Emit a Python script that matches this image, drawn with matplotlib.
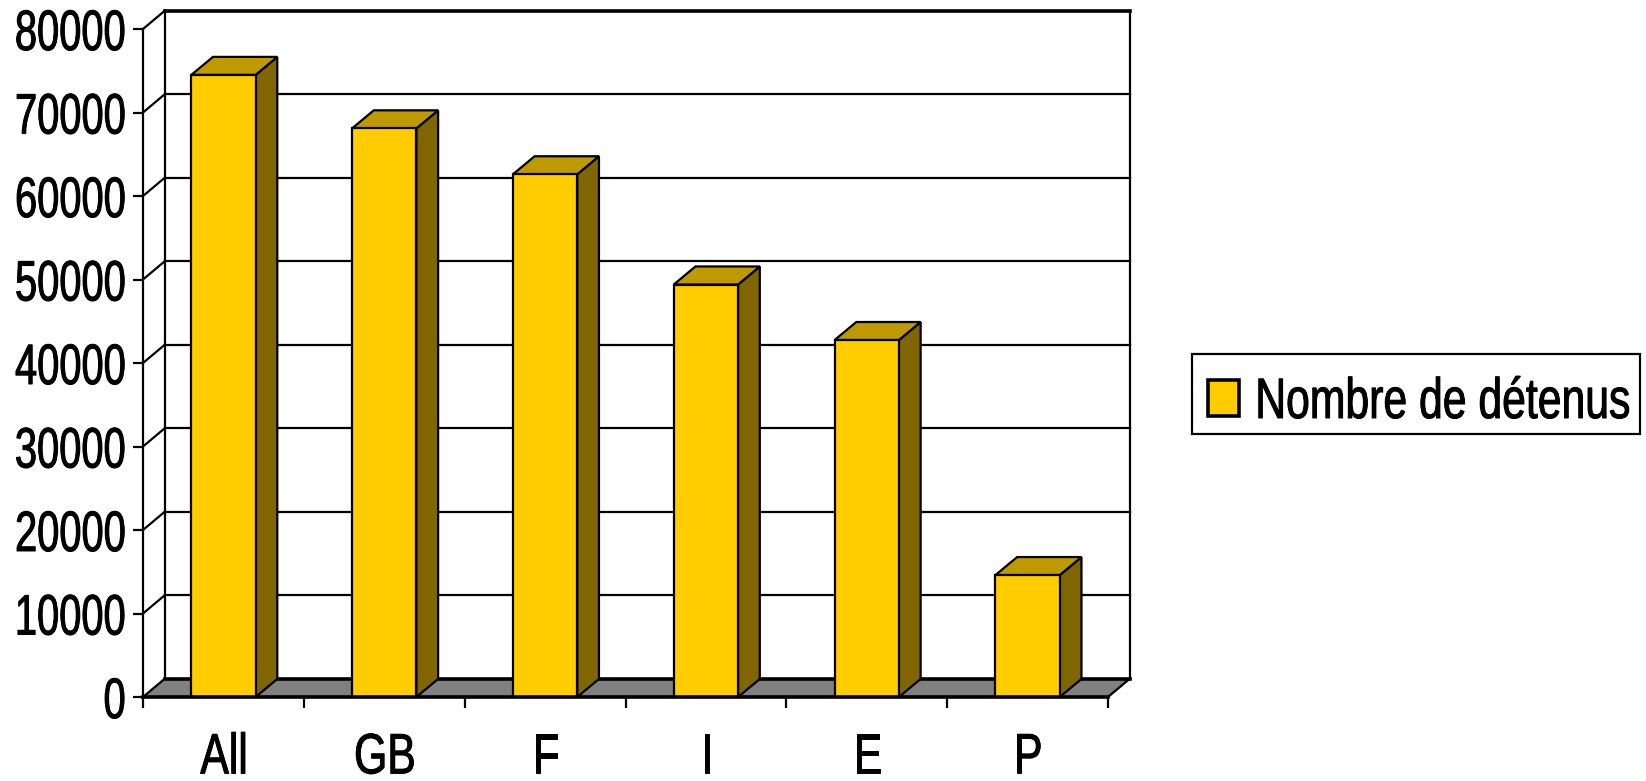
import matplotlib
matplotlib.use("Agg")
import matplotlib.pyplot as plt
import matplotlib.patheffects as pe
from matplotlib import font_manager
from matplotlib.patches import Patch, Polygon, Rectangle
from fontTools.ttLib import TTFont

# ----------------------------------
# Narrow font, squeezed from Liberation Sans
# ----------------------------------

squeeze = 0.75
digit_squeeze = 0.70
digit_names = ["zero", "one", "two", "three", "four", "five", "six", "seven", "eight", "nine"]

font = TTFont(font_manager.findfont("Liberation Sans"))
glyf = font["glyf"]
hmtx = font["hmtx"]

for name in glyf.keys():
    g = glyf[name]
    k = digit_squeeze if name in digit_names else squeeze
    if g.isComposite():
        for c in g.components:
            c.x = round(c.x * k)
    elif g.numberOfContours > 0:
        g.coordinates.scale((k, 1))
        g.coordinates.toInt()
        g.removeHinting()
    adv, lsb = hmtx.metrics[name]
    hmtx.metrics[name] = (round(adv * k), round(lsb * k))

for name in glyf.keys():
    glyf[name].recalcBounds(glyf)

for table in ["kern", "GPOS", "GSUB", "fpgm", "prep", "cvt "]:
    if table in font:
        del font[table]

for rec in font["name"].names:
    if rec.nameID in (1, 4, 16):
        rec.string = "Squeezed Sans"
    elif rec.nameID == 6:
        rec.string = "SqueezedSans-Regular"

font.save("squeezed.ttf")
font_manager.fontManager.addfont("squeezed.ttf")
plt.rcParams["font.family"] = ["Squeezed Sans", "Liberation Sans", "DejaVu Sans"]

# ----------------------------------
# Data
# ----------------------------------

countries = ["All", "GB", "F", "I", "E", "P"]
detenus = [74500, 68100, 62600, 49400, 42750, 14600]
y_ticks = [0, 10000, 20000, 30000, 40000, 50000, 60000, 70000, 80000]
series_name = "Nombre de détenus"

# ----------------------------------
# Styles
# ----------------------------------

front_color = "#FFCC00"
top_color = "#BF9900"
side_color = "#806600"
floor_color = "#808080"

bar_width = 0.4
wall_dx = 0.137
wall_dy = 2215
bar_dx = 0.135
bar_dy = 2160
label_size = 41
thin = 1.6
thick = 2.6
heavier = [pe.withStroke(linewidth=0.7, foreground="black")]

# ----------------------------------
# Axes
# ----------------------------------

fig = plt.figure(figsize=(16.46, 7.81), dpi=100, facecolor="white")
ax = fig.add_axes([143 / 1646, 84 / 781, 965 / 1646, 668 / 781])

ax.set_xlim(0, len(countries))
ax.set_ylim(0, y_ticks[-1])

for side in ["top", "right", "bottom"]:
    ax.spines[side].set_visible(False)
ax.spines["left"].set_linewidth(thin)

ax.set_yticks(y_ticks)
ax.set_yticklabels([str(v) for v in y_ticks], fontsize=label_size, path_effects=heavier)
ax.tick_params(axis="y", length=7.5, width=thin, pad=5)

ax.set_xticks(range(len(countries) + 1))
ax.set_xticklabels([""] * (len(countries) + 1))
ax.tick_params(axis="x", length=8, width=thin)

# category names sit between the tick marks
for i, name in enumerate(countries):
    ax.annotate(name, (i + 0.5, 0), xytext=(0.5, -55), textcoords="offset points",
                ha="center", va="baseline", fontsize=label_size, path_effects=heavier)

# ----------------------------------
# Floor and walls
# ----------------------------------

n = len(countries)
ymax = y_ticks[-1]

ax.add_patch(Polygon([(0, 0), (n, 0), (n + wall_dx, wall_dy), (wall_dx, wall_dy)],
                     closed=True, facecolor=floor_color, edgecolor="none",
                     clip_on=False, zorder=1))
ax.plot([n, n + wall_dx], [0, wall_dy], color="black", lw=thin, clip_on=False, zorder=2)
ax.plot([wall_dx, n + wall_dx], [wall_dy, wall_dy], color="black", lw=thick, clip_on=False, zorder=2)

# back wall outline
ax.plot([wall_dx, wall_dx], [wall_dy, ymax + wall_dy], color="black", lw=thin, clip_on=False, zorder=2)
ax.plot([n + wall_dx, n + wall_dx], [wall_dy, ymax + wall_dy], color="black", lw=thin, clip_on=False, zorder=2)
ax.plot([wall_dx, n + wall_dx], [ymax + wall_dy, ymax + wall_dy], color="black", lw=thick, clip_on=False, zorder=2)

# gridlines run across the back wall and down the side wall
for v in y_ticks:
    ax.plot([0, wall_dx], [v, v + wall_dy], color="black", lw=thin, clip_on=False, zorder=2)
    if v > 0 and v < ymax:
        ax.plot([wall_dx, n + wall_dx], [v + wall_dy, v + wall_dy], color="black", lw=thin,
                clip_on=False, zorder=2)

# ----------------------------------
# Bars
# ----------------------------------

for i, value in enumerate(detenus):
    left = i + 0.5 - bar_width / 2
    right = i + 0.5 + bar_width / 2

    ax.bar(i + 0.5, value, width=bar_width, color=front_color, edgecolor="black",
           linewidth=thin, clip_on=False, zorder=4)

    ax.add_patch(Polygon([(right, 0), (right + bar_dx, bar_dy),
                          (right + bar_dx, value + bar_dy), (right, value)],
                         closed=True, facecolor=side_color, edgecolor="black",
                         linewidth=thin, clip_on=False, zorder=3))
    ax.add_patch(Polygon([(left, value), (right, value),
                          (right + bar_dx, value + bar_dy), (left + bar_dx, value + bar_dy)],
                         closed=True, facecolor=top_color, edgecolor="black",
                         linewidth=thin, clip_on=False, zorder=3))

# bottom edge of the bars goes over the floor line
ax.plot([0, n], [0, 0], color="black", lw=thick, clip_on=False, zorder=5)

# ----------------------------------
# Legend
# ----------------------------------

# frame is separate because the entry sits low inside it
fig.add_artist(Rectangle((1192 / 1646, 1 - 434 / 781), 448 / 1646, 80 / 781,
                         transform=fig.transFigure, facecolor="white",
                         edgecolor="black", linewidth=thin))

handle = Patch(facecolor=front_color, edgecolor="black", linewidth=thick)
leg = fig.legend(
    [handle], [series_name],
    loc="center left",
    bbox_to_anchor=(1208 / 1646, 1 - 403 / 781),
    borderaxespad=0,
    borderpad=0,
    fontsize=label_size,
    frameon=False,
    handlelength=0.55,
    handleheight=0.58,
    handletextpad=0.28,
)
for t in leg.get_texts():
    t.set_path_effects(heavier)

plt.savefig("out.png", dpi=100)
